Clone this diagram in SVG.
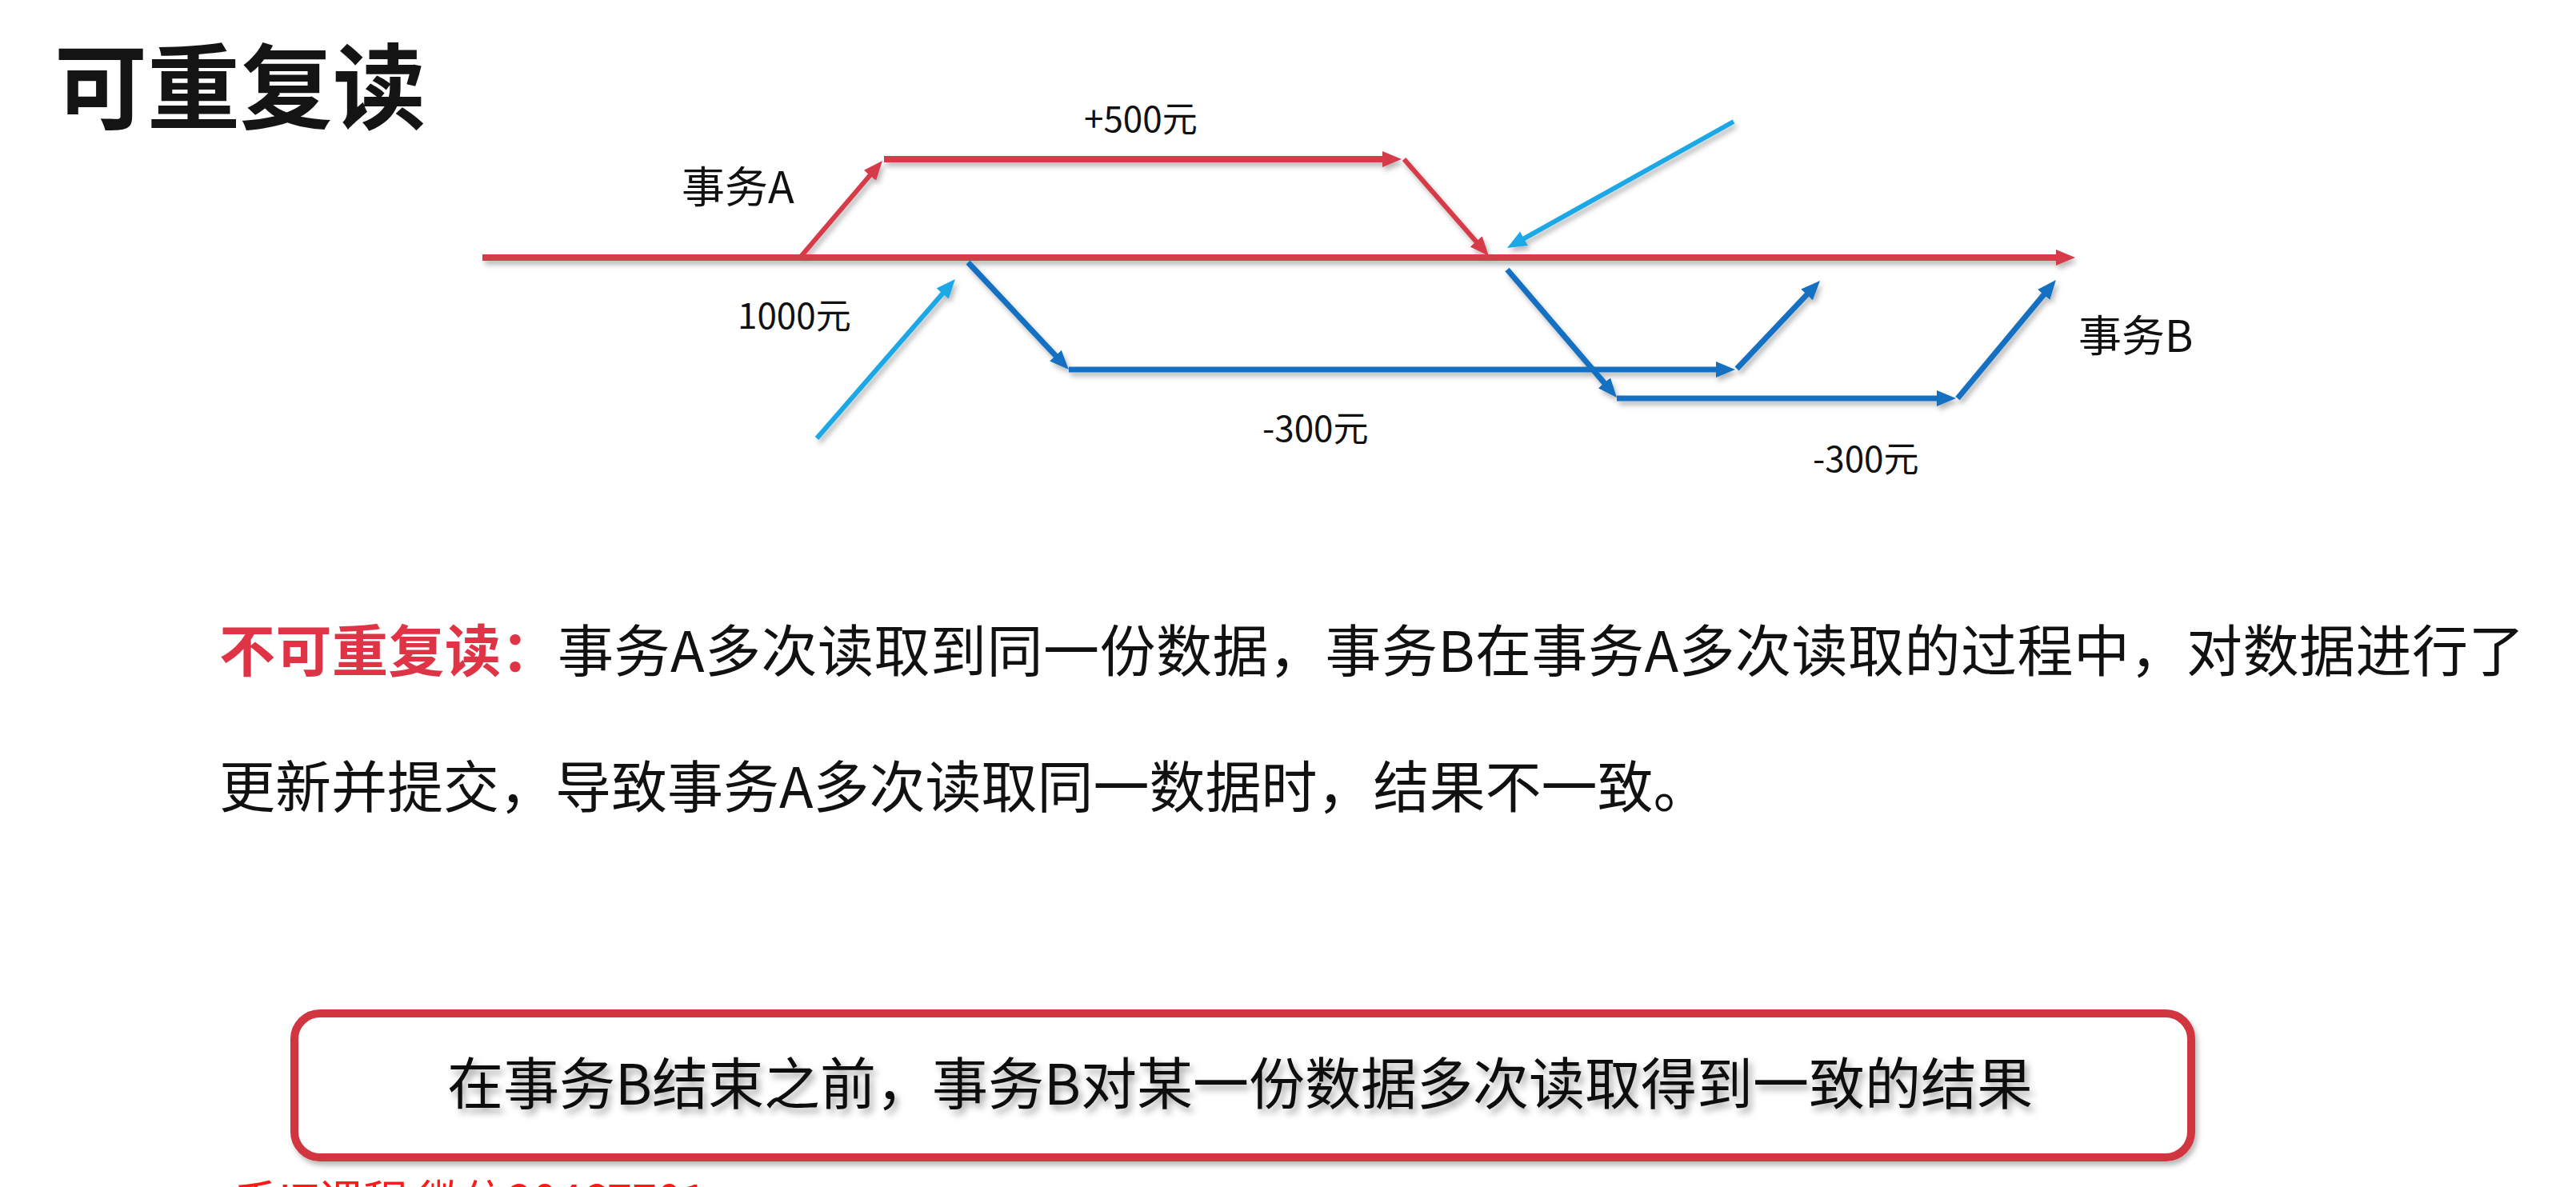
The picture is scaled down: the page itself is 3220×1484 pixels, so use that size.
<svg xmlns="http://www.w3.org/2000/svg" width="3220" height="1484" viewBox="0 0 3220 1484">
  <style>
    .cjk { font-family: "Noto Sans CJK SC", "Noto Sans", sans-serif; }
    .title { font-size: 116px; font-weight: 700; fill: #141414; }
    .lbl { font-size: 54px; fill: #111; }
    .amt { font-size: 44px; fill: #111; }
    .para { font-size: 70px; fill: #111; }
    .hl { fill: #df3445; font-weight: 700; }
    .red { fill: none; stroke: #d63b49; stroke-width: 8; marker-end: url(#ahRed); }
    .blue { fill: none; stroke: #1470c2; stroke-width: 7; marker-end: url(#ahBlue); }
    .sky { fill: none; stroke: #1aa8e6; stroke-width: 6; marker-end: url(#ahSky); }
    .wm { font-size: 56px; fill: #ff1a1a; }
  </style>
  <defs>
    <marker id="ahRed" markerUnits="userSpaceOnUse" markerWidth="26" markerHeight="22" refX="12" refY="10" orient="auto">
      <path d="M0,0 L24,10 L0,20 z" fill="#d63b49"/>
    </marker>
    <marker id="ahBlue" markerUnits="userSpaceOnUse" markerWidth="26" markerHeight="22" refX="12" refY="10" orient="auto">
      <path d="M0,0 L24,10 L0,20 z" fill="#1470c2"/>
    </marker>
    <marker id="ahSky" markerUnits="userSpaceOnUse" markerWidth="26" markerHeight="22" refX="12" refY="10" orient="auto">
      <path d="M0,0 L24,10 L0,20 z" fill="#1aa8e6"/>
    </marker>
    <filter id="shadow" x="-10%" y="-10%" width="120%" height="140%">
      <feDropShadow dx="3" dy="5" stdDeviation="3" flood-color="#000" flood-opacity="0.28"/>
    </filter>
    <filter id="textShadow" x="-5%" y="-20%" width="110%" height="150%">
      <feDropShadow dx="4" dy="6" stdDeviation="4" flood-color="#000" flood-opacity="0.35"/>
    </filter>
  </defs>

  <rect width="3220" height="1484" fill="#ffffff"/>

  <!-- heading -->
  <text class="cjk title" x="68" y="152">可重复读</text>

  <!-- timeline connectors -->
  <g id="connectors" filter="url(#shadow)">
    <!-- transaction A: main timeline and its +500 branch -->
    <path class="red" d="M603,322 L2582,322"/>
    <path class="red" style="stroke-width:6" d="M1000,322 L1095.2,210.1"/>
    <path class="red" d="M1105,199 L1740,199"/>
    <path class="red" style="stroke-width:6" d="M1755,199 L1853.1,311"/>
    <!-- reads pointing at timeline A -->
    <path class="sky" d="M1021,548 L1186.1,358"/>
    <path class="sky" d="M2167,152 L1894.5,304.1"/>
    <!-- transaction B: first -300 update -->
    <path class="blue" d="M1210,328 L1327.7,453.3"/>
    <path class="blue" d="M1336,462 L2157,462"/>
    <path class="blue" d="M2171,461 L2266.8,359.7"/>
    <!-- transaction B: second -300 update -->
    <path class="blue" d="M1884,337 L2013.2,487.9"/>
    <path class="blue" d="M2021,498 L2433,498"/>
    <path class="blue" d="M2447,498 L2562.3,359.2"/>
  </g>

  <!-- timeline labels -->
  <g id="label-txA"><text class="cjk lbl" x="852" y="254">事务A</text></g>
  <g id="label-txB"><text class="cjk lbl" x="2598" y="440">事务B</text></g>
  <g id="label-plus500"><text class="cjk amt" x="1355" y="165">+500元</text></g>
  <g id="label-1000"><text class="cjk amt" x="922" y="411">1000元</text></g>
  <g id="label-minus300-a"><text class="cjk amt" x="1578" y="552">-300元</text></g>
  <g id="label-minus300-b"><text class="cjk amt" x="2266" y="590">-300元</text></g>

  <!-- explanation paragraph -->
  <g id="definition">
    <text class="cjk para" x="274" y="840" letter-spacing="0.5"><tspan class="hl">不可重复读：</tspan>事务A多次读取到同一份数据，事务B在事务A多次读取的过程中，对数据进行了</text>
    <text class="cjk para" x="274" y="1010">更新并提交，导致事务A多次读取同一数据时，结果不一致。</text>
  </g>

  <!-- summary box -->
  <g id="summary">
    <rect x="368" y="1267" width="2371" height="180" rx="32" ry="32" fill="#ffffff" stroke="#d0343f" stroke-width="10" filter="url(#shadow)"/>
    <text class="cjk para" x="559" y="1381" filter="url(#textShadow)">在事务B结束之前，事务B对某一份数据多次读取得到一致的结果</text>
  </g>

  <!-- footer note, running off the bottom of the page -->
  <text class="cjk wm" x="292" y="1522">千IT课程  微信20467701</text>
</svg>
